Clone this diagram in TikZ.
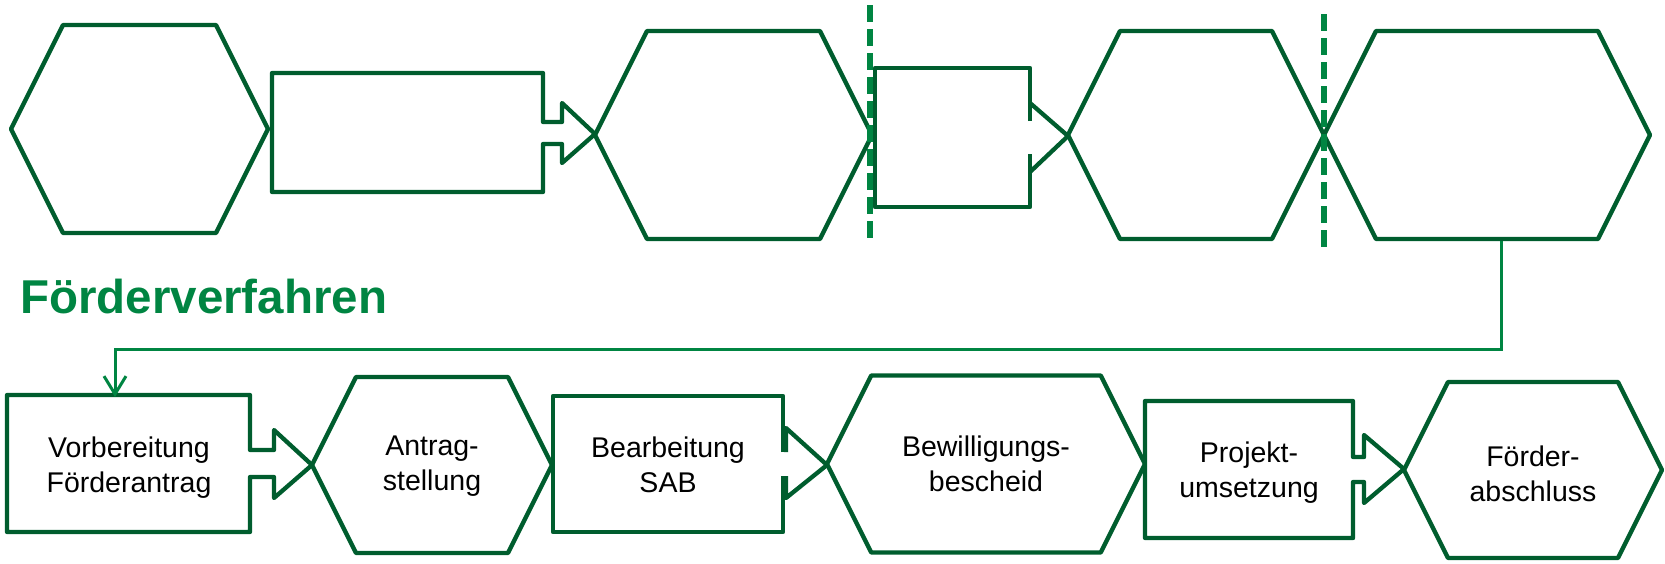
\documentclass[tikz,border=0pt]{standalone}
\usepackage{fontspec}
\setmainfont{Liberation Sans}
\usetikzlibrary{arrows.meta}
\definecolor{sabdark}{RGB}{0,93,46}
\definecolor{sabgreen}{RGB}{0,133,66}
\def\hexbox(#1,#2,#3,#4){\draw[outline] (#1,#2) -- ({#1+#4/2},{#2-#4}) -- ({#3-#4/2},{#2-#4}) -- (#3,#2) -- ({#3-#4/2},{#2+#4}) -- ({#1+#4/2},{#2+#4}) -- cycle;}
\tikzset{
	outline/.style={draw=sabdark, line width=4.3pt, line join=round},
	divider/.style={draw=sabgreen, line width=5.5pt, dash pattern=on 17pt off 7pt},
	flow/.style={draw=sabgreen, line width=3pt, -{Straight Barb[length=18pt,width=22pt]}},
	steptext/.style={font=\fontsize{28.5}{35}\selectfont, align=center, inner sep=0pt, anchor=north},
	titletext/.style={font=\fontsize{47.5}{57}\selectfont\bfseries, text=sabgreen, inner sep=0pt}
}
\begin{document}
\begin{tikzpicture}[x=1pt, y=-1pt]
			%%%%% START %%%%%
			\useasboundingbox (0,0) rectangle (1665,563);
			
			% obere Kette
			\hexbox(11,129,268,104);
			\draw[outline] (272,73) -- (543,73) -- (543,122) -- (562,122) -- (562,103) -- (595,134) -- (562,163) -- (562,144) -- (543,144) -- (543,192) -- (272,192) -- cycle;
			\hexbox(595,135,872,104);
			\draw[outline] (1030,121) -- (1030,68) -- (875,68) -- (875,207) -- (1030,207) -- (1030,154);
			\draw[outline] (1030,103) -- (1068,136) -- (1030,172);
			\hexbox(1068,135,1324,104);
			\hexbox(1324,135,1650,104);
			
			\draw[divider] (870,5) -- (870,239);
			\draw[divider] (1324,14) -- (1324,247);
			
			\node[titletext, anchor=base west] (titel) at (20,313) {Förderverfahren};
			
			% untere Kette
			\draw[outline] (7,395) -- (250,395) -- (250,450) -- (274,450) -- (274,430) -- (312,465) -- (274,498) -- (274,477) -- (250,477) -- (250,532) -- (7,532) -- cycle;
			\hexbox(312,465,552,88);
			\draw[outline] (783,452) -- (783,396) -- (553,396) -- (553,532) -- (783,532) -- (783,476);
			\draw[outline] (786,452) -- (786,428) -- (827,465) -- (786,498) -- (786,476);
			\hexbox(827,464,1145,88.5);
			\draw[outline] (1145,401) -- (1353,401) -- (1353,457) -- (1364,457) -- (1364,435) -- (1404,469) -- (1364,503) -- (1364,482) -- (1353,482) -- (1353,538) -- (1145,538) -- cycle;
			\hexbox(1404,470,1662,88);
			
			\node[steptext] (vorbereitung) at (129,437) {Vorbereitung\\Förderantrag};
			\node[steptext] (antrag) at (432,436) {Antrag-\\stellung};
			\node[steptext] (bearbeitung) at (668,437) {Bearbeitung\\SAB};
			\node[steptext] (bewilligung) at (986,436) {Bewilligungs-\\bescheid};
			\node[steptext] (projekt) at (1249,442) {Projekt-\\umsetzung};
			\node[steptext] (abschluss) at (1533,446) {Förder-\\abschluss};
			
			% Rueckfuehrung
			\coordinate (loopstart) at (1501,241);
			\coordinate (loopturn) at (115,349);
			\coordinate (vorbtop) at (115,397);
			\draw[flow] (loopstart) |- (loopturn) -- (vorbtop);
			
			%%%%% END %%%%%
\end{tikzpicture}
\end{document}
